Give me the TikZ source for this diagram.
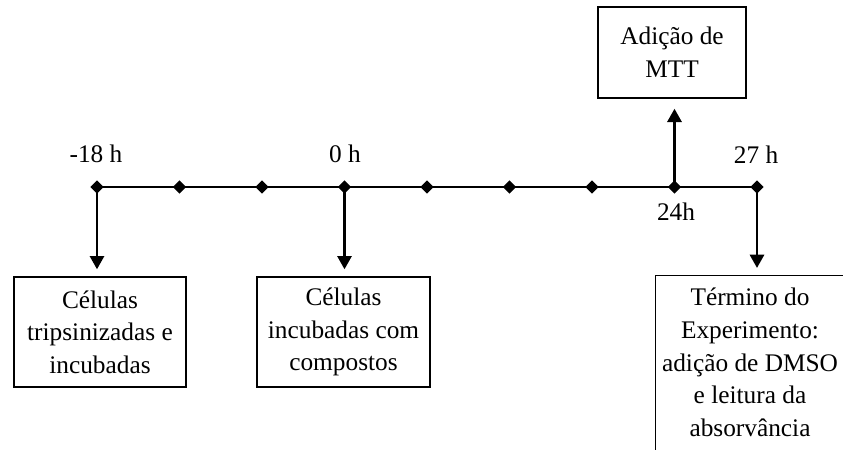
\documentclass[tikz,border=0pt]{standalone}
\usepackage{fontspec}
\setmainfont{Liberation Serif}
\usetikzlibrary{shapes.geometric,arrows.meta}
\begin{document}
\begin{tikzpicture}[x=0.75pt,y=-0.75pt,
  tick/.style={diamond,fill=black,inner sep=0pt,minimum size=10pt},
  boxtext/.style={align=center,inner sep=0pt,font=\fontsize{19}{24.5}\selectfont},
  stage/.style={draw,line width=1pt,boxtext},
  timelbl/.style={anchor=base,inner sep=0pt,font=\fontsize{19}{24.5}\selectfont},
  axis/.style={line width=2.2pt},
  pointer/.style={line width=2.2pt,-{Triangle[width=10.5pt,length=10pt]}}]
\useasboundingbox (0,0) rectangle (843,450);
\clip (0,0) rectangle (843,450);

% time marks along the axis
\foreach \i in {0,...,8}
  \node[tick] (t\i) at (97+82.5*\i,187) {};
\draw[axis] (t0.center) -- (t8.center);

% time labels
\node[timelbl] (l0) at (96,162) {-18 h};
\node[timelbl] (l3) at (345,162) {0 h};
\node[timelbl] (l8) at (756,163) {27 h};
\node[timelbl] (l7) at (676,220) {24h};

% stage boxes
\node[stage,minimum width=129pt,minimum height=82.5pt] (b1) at (100,332)
  {Células\\tripsinizadas e\\incubadas};
\node[stage,minimum width=129.75pt,minimum height=82.5pt] (b2) at (343.5,332)
  {Células\\incubadas com\\compostos};
\node[stage,minimum width=111pt,minimum height=68.25pt] (mtt) at (672,52.5)
  {Adição de\\MTT};
% last box runs past the lower and right edges; its text sits at the top
\node[stage,anchor=north west,minimum width=142.5pt,minimum height=150pt] (b3) at (655,275) {};
\node[boxtext,anchor=north] (b3t) at (750,288)
  {Término do\\Experimento:\\adição de DMSO\\e leitura da\\absorvância};

% arrows from the axis to each stage
\draw[pointer,shorten >=5.25pt] (t0.center) -- (t0 |- b1.north);
\draw[pointer,shorten >=5.25pt] (t3.center) -- (t3 |- b2.north);
\draw[pointer,shorten >=7.5pt] (t7.center) -- (t7 |- mtt.south);
\draw[pointer,shorten >=5.25pt] (t8.center) -- (t8 |- b3.north);
\end{tikzpicture}
\end{document}
